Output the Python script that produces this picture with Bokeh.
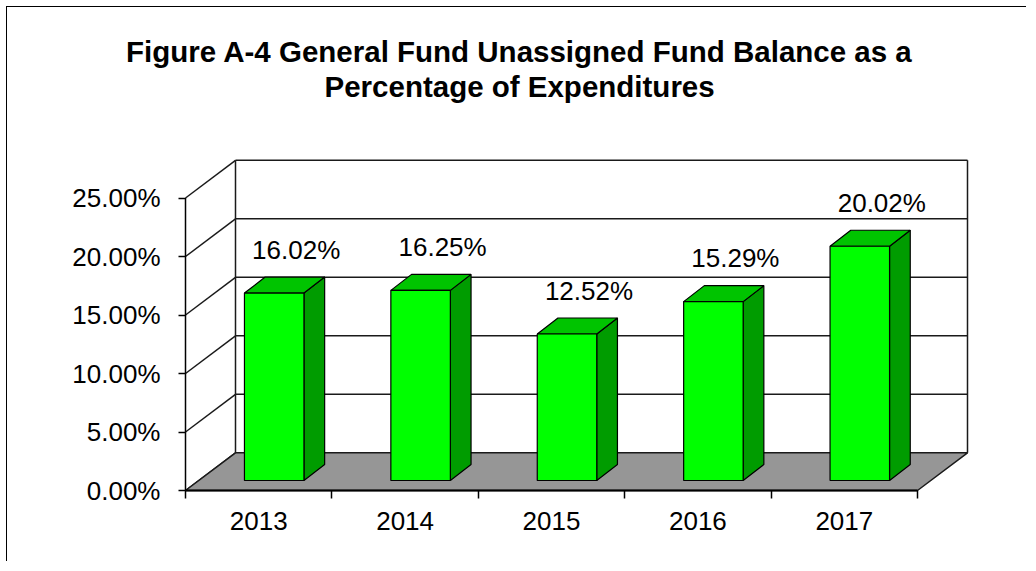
from bokeh.plotting import figure
from bokeh.models import Range1d, FixedTicker, PrintfTickFormatter, Title, CustomJSTickFormatter
from bokeh.embed import file_html
from bokeh.resources import INLINE
from bokeh.core.properties import value

# ---------------- data ----------------
years = ["2013", "2014", "2015", "2016", "2017"]
pct = [16.02, 16.25, 12.52, 15.29, 20.02]
y_ticks = [0, 5, 10, 15, 20, 25]
title_line1 = "Figure A-4 General Fund Unassigned Fund Balance as a"
title_line2 = "Percentage of Expenditures"

# ---------------- geometry (pixel scale -> data units) ----------------
PX_X = 146.4     # px per category
PX_Y = 11.7      # px per percentage point
n = len(years)
BX = 50 / PX_X           # depth of the 3-D box
BY = 37.7 / PX_Y
FX = 15.5 / PX_X         # bar front face offset from category centre
FY = 10 / PX_Y
BW = 59.5 / PX_X         # bar front width
DX = 20.7 / PX_X         # bar depth
DY = 16 / PX_Y
LBL_DX = 22 / PX_X
LBL_DY = 27.5 / PX_Y

LEFT_PAD = 7
BOTTOM_PAD = 8
frame_w, frame_h = 796, 343
x_start = -LEFT_PAD / PX_X
y_start = -BOTTOM_PAD / PX_Y

FONT = "Liberation Sans"

p = figure(width=1020, height=555, output_backend="svg", toolbar_location=None,
           x_range=Range1d(x_start, x_start + frame_w / PX_X),
           y_range=Range1d(y_start, y_start + frame_h / PX_Y),
           min_border_left=171, min_border_right=53, min_border_top=148, min_border_bottom=64,
           background_fill_color="white", border_fill_color="white")
p.title = None
p.outline_line_color = None
p.grid.visible = False
p.styles = {"border-left": "1.5px solid black", "border-top": "1.5px solid black",
            "margin-left": "6px", "margin-top": "6px"}

# y axis
p.yaxis.ticker = FixedTicker(ticks=y_ticks)
p.yaxis.formatter = PrintfTickFormatter(format="%.2f%%")
p.yaxis.axis_line_color = None
p.yaxis.major_tick_in = LEFT_PAD
p.yaxis.major_tick_out = 0
p.yaxis.major_tick_line_color = "black"
p.yaxis.major_tick_line_width = 1.5
p.yaxis.minor_tick_line_color = None
p.yaxis.major_label_standoff = 18
p.yaxis.major_label_text_font = FONT
p.yaxis.major_label_text_font_size = "26px"
p.yaxis.major_label_text_color = "black"

# x axis
centers = [i + 0.5 for i in range(n)]
bounds = [i for i in range(n + 1)]
p.xaxis.ticker = FixedTicker(ticks=centers, minor_ticks=bounds)
p.xaxis.formatter = CustomJSTickFormatter(args=dict(years=years),
                                          code="return years[Math.round(tick - 0.5)];")
p.xaxis.axis_line_color = None
p.xaxis.major_tick_line_color = None
p.xaxis.major_tick_in = 0
p.xaxis.major_tick_out = 0
p.xaxis.minor_tick_in = BOTTOM_PAD
p.xaxis.minor_tick_out = 0
p.xaxis.minor_tick_line_color = "black"
p.xaxis.minor_tick_line_width = 1.5
p.xaxis.major_label_standoff = 13
p.xaxis.major_label_text_font = FONT
p.xaxis.major_label_text_font_size = "26px"
p.xaxis.major_label_text_color = "black"

LINE = "#1a1a1a"
# back wall gridlines
p.segment(x0=[BX] * len(y_ticks), y0=[t + BY for t in y_ticks],
          x1=[n + BX] * len(y_ticks), y1=[t + BY for t in y_ticks],
          line_color=LINE, line_width=1.5)
# side wall diagonals
p.segment(x0=[0] * len(y_ticks), y0=y_ticks,
          x1=[BX] * len(y_ticks), y1=[t + BY for t in y_ticks],
          line_color=LINE, line_width=1.5)
# verticals
top = y_ticks[-1]
p.segment(x0=[BX, n + BX], y0=[BY, BY], x1=[BX, n + BX], y1=[top + BY, top + BY],
          line_color=LINE, line_width=1.5)
# floor
p.patch([0, n, n + BX, BX], [0, 0, BY, BY], fill_color="#969696",
        line_color=LINE, line_width=1.5)
p.segment(x0=[0], y0=[0], x1=[n], y1=[0], line_color="black", line_width=2.2)
p.segment(x0=[0], y0=[0], x1=[0], y1=[top], line_color="black", line_width=1.5)

# bars
front_xs, front_ys, top_xs, top_ys, side_xs, side_ys = [], [], [], [], [], []
lx, ly, labels = [], [], []
for i, v in enumerate(pct):
    c = i + 0.5 + FX
    l, r = c - BW / 2, c + BW / 2
    b, t = FY, FY + v
    front_xs.append([l, r, r, l]); front_ys.append([b, b, t, t])
    top_xs.append([l, r, r + DX, l + DX]); top_ys.append([t, t, t + DY, t + DY])
    side_xs.append([r, r + DX, r + DX, r]); side_ys.append([b, b + DY, t + DY, t])
    lx.append(c + LBL_DX); ly.append(t + DY + LBL_DY); labels.append(f"{v:.2f}%")

p.patches(side_xs, side_ys, fill_color="#009c00", line_color="black", line_width=1.2)
p.patches(top_xs, top_ys, fill_color="#00c400", line_color="black", line_width=1.2)
p.patches(front_xs, front_ys, fill_color="#00ff00", line_color="black", line_width=1.2)

p.text(x=lx, y=ly, text=labels, text_font=value(FONT), text_font_size="26px",
       text_align="center", text_baseline="middle", text_color="black")

# titles: spacer panel nearest the frame, then line 2, then line 1
spacer = Title(text=" ", text_font=FONT, text_font_size="29px", standoff=19)
t2 = Title(text=title_line2, align="left", offset=146, text_font=FONT,
           text_font_size="29.5px", text_font_style="bold", text_color="black", standoff=0)
t1 = Title(text=title_line1, align="left", offset=-52.5, text_font=FONT,
           text_font_size="29.5px", text_font_style="bold", text_color="black", standoff=0)
p.add_layout(spacer, "above")
p.add_layout(t2, "above")
p.add_layout(t1, "above")

open("out.html", "w").write(file_html(p, INLINE))
